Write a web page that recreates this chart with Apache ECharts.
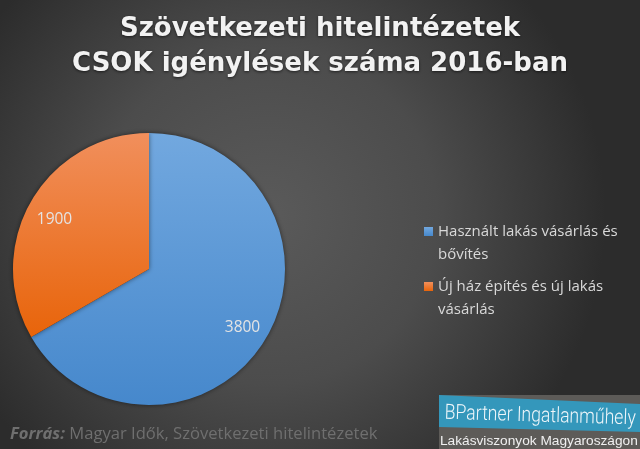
<!DOCTYPE html>
<html><head><meta charset="utf-8">
<style>html,body{margin:0;padding:0;background:#3a3a3a}#c{width:640px;height:449px}</style>
<script src="https://cdn.jsdelivr.net/npm/echarts@6/dist/echarts.min.js"></script>
</head><body><div id="c"></div>
<script>
const titleLines = ['Szövetkezeti hitelintézetek', 'CSOK igénylések száma 2016-ban'];
const categories = ['Használt lakás vásárlás és bővítés', 'Új ház építés és új lakás vásárlás'];
const legendLines = ['\nHasznált lakás vásárlás és\nbővítés', '\nÚj ház építés és új lakás\nvásárlás'];
const values = [3800, 1900];
const sourceLabel = 'Forrás:';
const sourceText = ' Magyar Idők, Szövetkezeti hitelintézetek';
const logoLine1 = 'BPartner Ingatlanműhely';
const logoLine2 = 'Lakásviszonyok Magyaroszágon';

const grad = (a, b) => new echarts.graphic.LinearGradient(0, 0, 0, 1, [{offset: 0, color: a}, {offset: 1, color: b}]);
const chart = echarts.init(document.getElementById('c'), null, {renderer: 'canvas'});
chart.setOption({
  animation: false,
  backgroundColor: new echarts.graphic.RadialGradient(0.42, 0.48, 0.75, [
    {offset: 0, color: '#5a5a5a'}, {offset: 0.5, color: '#4c4c4c'}, {offset: 1, color: '#2c2c2c'}
  ]),
  title: {
    text: titleLines.join('\n'), left: 315, top: 7, textAlign: 'center',
    textStyle: {fontFamily: 'DejaVu Sans', fontWeight: 700, fontSize: 26, lineHeight: 35, color: '#f2f2f2',
      textShadowColor: 'rgba(0,0,0,0.6)', textShadowBlur: 3, textShadowOffsetY: 1}
  },
  legend: {
    orient: 'vertical', left: 419, top: 192, itemWidth: 9, itemHeight: 9, itemGap: -14, icon: 'rect',
    formatter: n => legendLines[categories.indexOf(n)],
    textStyle: {fontFamily: 'Open Sans', fontSize: 15, lineHeight: 23, color: '#d9d9d9'},
    data: categories
  },
  series: [{
    type: 'pie', center: [149, 269], radius: [0, 136], startAngle: 90, clockwise: true,
    label: {position: 'inside', formatter: '{c}', fontFamily: 'Open Sans', fontSize: 15.5, color: '#e4e4e4'},
    labelLine: {show: false},
    itemStyle: {shadowColor: 'rgba(0,0,0,0.5)', shadowBlur: 5},
    data: [
      {name: categories[0], value: values[0], label: {offset: [32, 23]}, itemStyle: {color: grad('#72a8df', '#4688cc')}},
      {name: categories[1], value: values[1], label: {offset: [-33, -14]}, itemStyle: {color: grad('#f18f5c', '#e8640a')}}
    ]
  }],
  graphic: [
    {type: 'rect', shape: {x: 439, y: 395, width: 201, height: 54}, style: {fill: '#5d5b58'}},
    {type: 'polygon', shape: {points: [[439, 395], [640, 404], [640, 432], [439, 427]]}, style: {fill: '#3497bb'}},
    {type: 'text', x: 445, y: 403, rotation: -0.03, scaleX: 0.84, style: {text: logoLine1, fontFamily: 'Roboto', fontWeight: 300, fontSize: 21, fill: '#eef6fa'}},
    {type: 'text', x: 440, y: 434, style: {text: logoLine2, fontFamily: 'Liberation Sans', fontSize: 13.7, fill: '#f0f0f0'}},
    {type: 'text', x: 10, y: 426, style: {
      rich: {b: {fontFamily: 'Open Sans', fontSize: 16.6, fontWeight: 700, fontStyle: 'italic', fill: '#6f6f6f'},
             n: {fontFamily: 'Open Sans', fontSize: 16.6, fill: '#6f6f6f'}},
      text: '{b|' + sourceLabel + '}{n|' + sourceText + '}'
    }}
  ]
});
</script></body></html>
